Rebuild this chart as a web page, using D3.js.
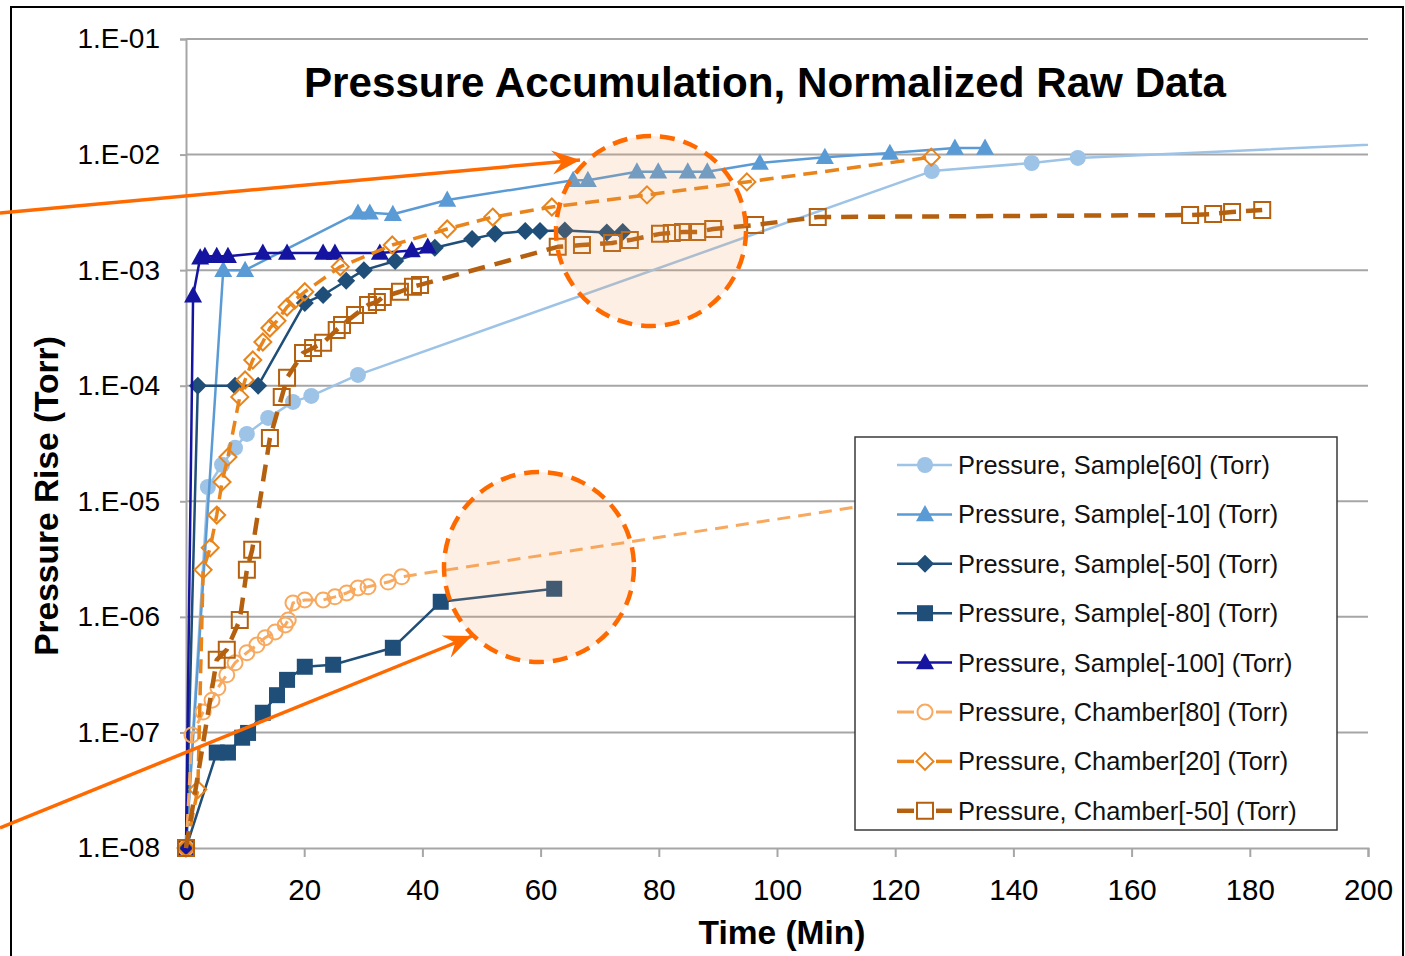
<!DOCTYPE html>
<html><head><meta charset="utf-8">
<script src="https://cdn.jsdelivr.net/npm/d3@7/dist/d3.min.js"></script>
<style>body{margin:0;background:#fff}svg{display:block}text{font-family:"Liberation Sans",Arial,sans-serif}</style>
</head><body>
<svg id="c" width="1405" height="956"></svg>
<script>
// ---- data (time in min, pressure in Torr) ----
const xTicks = [0,20,40,60,80,100,120,140,160,180,200];
const yTicks = [1e-8,1e-7,1e-6,1e-5,1e-4,1e-3,1e-2,1e-1];
const yTickLabels = ["1.E-08","1.E-07","1.E-06","1.E-05","1.E-04","1.E-03","1.E-02","1.E-01"];

const sample60 = [[0,1e-8],[3.7,1.33e-5],[6.1,2.07e-5],[8.3,2.9e-5],[10.3,3.83e-5],[13.9,5.26e-5],[18.1,7.24e-5],[21.2,8.16e-5],[29.1,1.24e-4],[126.2,7.2e-3],[143.1,8.45e-3],[150.9,9.35e-3],[240,1.5e-2]];
const sampleM10 = [[0,1e-8],[6.3,1.0e-3],[10.0,1.0e-3],[29.1,3.13e-3],[31.1,3.13e-3],[35.0,3.05e-3],[44.2,4.05e-3],[65.5,6.0e-3],[68.0,6.0e-3],[76.3,7.1e-3],[79.9,7.1e-3],[84.9,7.1e-3],[88.2,7.1e-3],[97.1,8.45e-3],[108.1,9.5e-3],[119.1,1.03e-2],[130.1,1.14e-2],[135.2,1.14e-2]];
const sampleM50 = [[0,1e-8],[2.0,1e-4],[8.3,1e-4],[12.2,1e-4],[20.1,5.2e-4],[23.2,6.1e-4],[27.1,8.1e-4],[30.1,1.0e-3],[35.4,1.2e-3],[42.1,1.56e-3],[48.4,1.86e-3],[52.3,2.06e-3],[57.4,2.18e-3],[59.9,2.18e-3],[64.1,2.2e-3],[71.2,2.12e-3],[73.9,2.14e-3]];
const sampleM80 = [[0,1e-8],[5.2,6.7e-8],[7.1,6.7e-8],[9.5,9.0e-8],[10.5,9.9e-8],[13.0,1.48e-7],[15.4,2.1e-7],[17.1,2.85e-7],[20.1,3.7e-7],[24.9,3.85e-7],[35.0,5.4e-7],[43.1,1.35e-6],[62.3,1.75e-6]];
const sampleM100 = [[0,1e-8],[1.2,6.0e-4],[2.4,1.28e-3],[3.2,1.32e-3],[5.2,1.32e-3],[7.1,1.32e-3],[13.0,1.41e-3],[17.1,1.41e-3],[23.2,1.41e-3],[25.2,1.41e-3],[32.8,1.41e-3],[38.2,1.48e-3],[40.9,1.59e-3]];
const chamber80 = [[0,1e-8],[1.0,9.5e-8],[2.9,1.5e-7],[4.4,1.9e-7],[5.4,2.43e-7],[6.9,3.15e-7],[8.3,4.0e-7],[10.3,4.9e-7],[12.0,5.7e-7],[13.4,6.6e-7],[15.1,7.4e-7],[16.8,8.5e-7],[17.3,9.4e-7],[18.1,1.32e-6],[20.1,1.4e-6],[23.2,1.4e-6],[25.2,1.49e-6],[27.2,1.61e-6],[29.1,1.78e-6],[30.8,1.82e-6],[34.2,2.0e-6],[36.5,2.22e-6],[150,1.73e-5]];
const chamber20 = [[0,1e-8],[2.0,3.2e-8],[2.9,2.55e-6],[4.1,3.96e-6],[5.2,7.6e-6],[6.1,1.47e-5],[7.1,2.42e-5],[9.1,8.0e-5],[10.0,1.12e-4],[11.3,1.67e-4],[13.0,2.39e-4],[14.2,3.16e-4],[15.4,3.64e-4],[17.1,4.8e-4],[18.4,5.5e-4],[20.1,6.5e-4],[26.1,1.07e-3],[34.9,1.65e-3],[44.2,2.27e-3],[51.9,2.88e-3],[61.9,3.52e-3],[78.0,4.48e-3],[94.9,5.8e-3],[126.1,9.5e-3]];
const chamberM50 = [[0,1e-8],[5.2,4.25e-7],[6.9,5.2e-7],[9.1,9.4e-7],[10.3,2.55e-6],[11.2,3.8e-6],[14.2,3.53e-5],[16.2,8.0e-5],[17.1,1.17e-4],[19.8,1.92e-4],[21.5,2.12e-4],[23.2,2.35e-4],[25.5,3.04e-4],[26.4,3.36e-4],[28.6,4.1e-4],[30.8,5.0e-4],[32.3,5.3e-4],[33.3,5.86e-4],[36.2,6.5e-4],[38.4,7.2e-4],[39.6,7.45e-4],[62.9,1.59e-3],[67.0,1.65e-3],[72.1,1.72e-3],[75.1,1.82e-3],[80.2,2.06e-3],[82.2,2.1e-3],[84.1,2.14e-3],[86.5,2.14e-3],[89.2,2.27e-3],[96.3,2.46e-3],[106.9,2.88e-3],[169.9,3.0e-3],[173.8,3.06e-3],[177.0,3.19e-3],[182.1,3.32e-3]];

const seriesNames = ["Pressure, Sample[60] (Torr)","Pressure, Sample[-10] (Torr)","Pressure, Sample[-50] (Torr)","Pressure, Sample[-80] (Torr)","Pressure, Sample[-100] (Torr)","Pressure, Chamber[80] (Torr)","Pressure, Chamber[20] (Torr)","Pressure, Chamber[-50] (Torr)"];
const seriesData = [sample60,sampleM10,sampleM50,sampleM80,sampleM100,chamber80,chamber20,chamberM50];

// ---- styles ----
const styles = [
  {color:"#9DC3E6", w:2.5, dash:null, marker:"circle", fill:true, ms:8},
  {color:"#5B9BD5", w:2.5, dash:null, marker:"triangle", fill:true, ms:9},
  {color:"#1F4E79", w:2.5, dash:null, marker:"diamond", fill:true, ms:9},
  {color:"#1F4E79", w:2.5, dash:null, marker:"square", fill:true, ms:8},
  {color:"#1414A0", w:2.5, dash:null, marker:"triangle", fill:true, ms:9},
  {color:"#F8A95E", w:3, dash:"13,8", marker:"circle", fill:false, ms:7.5},
  {color:"#E8841A", w:3.5, dash:"14,8", marker:"diamond", fill:false, ms:8.5},
  {color:"#B5600E", w:4.5, dash:"17,10", marker:"square", fill:false, ms:8}
];

const svg = d3.select("#c");
const L=186,R=1368,T=39,B=848;
const x = d3.scaleLinear().domain([0,200]).range([L,R]);
const y = d3.scaleLog().domain([1e-8,1e-1]).range([B,T]);

// outer border
svg.append("rect").attr("x",11).attr("y",7).attr("width",1392).attr("height",960).attr("fill","#fff").attr("stroke","#000").attr("stroke-width",2);

// gridlines
svg.append("g").selectAll("line").data(yTicks.slice(1)).join("line")
  .attr("x1",L).attr("x2",R).attr("y1",d=>y(d)).attr("y2",d=>y(d))
  .attr("stroke","#A6A6A6").attr("stroke-width",2);

// axes
const yAxis = d3.axisLeft(y).tickValues(yTicks).tickFormat((d,i)=>yTickLabels[i]).tickSize(6).tickPadding(20);
const gy = svg.append("g").attr("transform",`translate(${L},0)`).call(yAxis);
gy.select(".domain").attr("stroke","#A6A6A6").attr("stroke-width",2);
gy.selectAll(".tick line").attr("stroke","#A6A6A6").attr("stroke-width",2);
gy.selectAll(".tick text").attr("font-size",28).attr("fill","#000").attr("font-family","Liberation Sans, Arial, sans-serif");

const xAxis = d3.axisBottom(x).tickValues(xTicks).tickFormat(d3.format("d")).tickSize(9).tickPadding(22);
const gx = svg.append("g").attr("transform",`translate(0,${B})`).call(xAxis);
gx.select(".domain").attr("stroke","#A6A6A6").attr("stroke-width",2);
gx.selectAll(".tick line").attr("stroke","#A6A6A6").attr("stroke-width",2);
gx.selectAll(".tick text").attr("font-size",29.5).attr("fill","#000").attr("font-family","Liberation Sans, Arial, sans-serif");

// titles
svg.append("text").attr("x",765).attr("y",97).attr("text-anchor","middle").attr("font-size",42.2).attr("font-weight","bold").text("Pressure Accumulation, Normalized Raw Data");
svg.append("text").attr("x",782).attr("y",944).attr("text-anchor","middle").attr("font-size",33.5).attr("font-weight","bold").text("Time (Min)");
svg.append("text").attr("transform","translate(58,496) rotate(-90)").attr("text-anchor","middle").attr("font-size",33.5).attr("font-weight","bold").text("Pressure Rise (Torr)");

// clip
svg.append("clipPath").attr("id","clip").append("rect").attr("x",0).attr("y",0).attr("width",R).attr("height",956);

function markerPath(type, s){
  if(type==="triangle") return `M0,${-s*1.05}L${s},${s*0.75}L${-s},${s*0.75}Z`;
  if(type==="diamond") return `M0,${-s}L${s},0L0,${s}L${-s},0Z`;
  if(type==="square") return `M${-s},${-s}H${s}V${s}H${-s}Z`;
  return null;
}
function drawMarker(g, st){
  const c = st.color;
  if(st.marker==="circle"){
    g.append("circle").attr("r",st.ms).attr("fill",st.fill?c:"none").attr("stroke",c).attr("stroke-width",st.fill?0:2);
  } else {
    g.append("path").attr("d",markerPath(st.marker,st.ms)).attr("fill",st.fill?c:"none").attr("stroke",c).attr("stroke-width",st.fill?0:2);
  }
}

const line = d3.line().x(d=>x(d[0])).y(d=>y(d[1]));
const plot = svg.append("g");
seriesData.forEach((data,i)=>{
  const st = styles[i];
  const g = plot.append("g");
  g.append("path").attr("d",line(data)).attr("fill","none").attr("stroke",st.color).attr("stroke-width",st.w)
    .attr("stroke-dasharray",st.dash).attr("clip-path","url(#clip)").attr("stroke-linejoin","round");
  data.filter(d=>d[0]<=200).forEach(d=>{
    const m = g.append("g").attr("transform",`translate(${x(d[0])},${y(d[1])})`);
    drawMarker(m, st);
  });
});

// legend
const lg = svg.append("g");
lg.append("rect").attr("x",855).attr("y",437).attr("width",482).attr("height",393).attr("fill","#fff").attr("stroke","#3A3A3A").attr("stroke-width",1.5);
seriesNames.forEach((name,i)=>{
  const st = styles[i];
  const yy = 465 + i*49.4;
  if(st.dash){
    lg.append("line").attr("x1",897).attr("x2",914).attr("y1",yy).attr("y2",yy).attr("stroke",st.color).attr("stroke-width",st.w);
    lg.append("line").attr("x1",936).attr("x2",952).attr("y1",yy).attr("y2",yy).attr("stroke",st.color).attr("stroke-width",st.w);
  } else {
    lg.append("line").attr("x1",897).attr("x2",952).attr("y1",yy).attr("y2",yy).attr("stroke",st.color).attr("stroke-width",st.w);
  }
  const m = lg.append("g").attr("transform",`translate(925,${yy})`);
  drawMarker(m, st);
  lg.append("text").attr("x",958).attr("y",yy+9).attr("font-size",25.4).attr("fill","#111").text(name);
});

// annotations
const ann = svg.append("g");
[[651,231],[539,567]].forEach(c=>{
  ann.append("circle").attr("cx",c[0]).attr("cy",c[1]).attr("r",95)
    .attr("fill","#F4A05A").attr("fill-opacity",0.17)
    .attr("stroke","#FF6A00").attr("stroke-width",4.5).attr("stroke-dasharray","15,9");
});
function arrow(x0,y0,x1,y1){
  ann.append("line").attr("x1",x0).attr("y1",y0).attr("x2",x1).attr("y2",y1).attr("stroke","#FF6A00").attr("stroke-width",3.5);
  const a = Math.atan2(y1-y0,x1-x0);
  const len=28, wid=12, back=18;
  const p = (dx,dy)=>[x1+dx*Math.cos(a)-dy*Math.sin(a), y1+dx*Math.sin(a)+dy*Math.cos(a)];
  const pts=[p(0,0),p(-len,-wid),p(-back,0),p(-len,wid)];
  ann.append("path").attr("d","M"+pts.map(q=>q.join(",")).join("L")+"Z").attr("fill","#FF6A00");
}
arrow(0,213,580,160);
arrow(0,828,472,636);
</script>
</body></html>
